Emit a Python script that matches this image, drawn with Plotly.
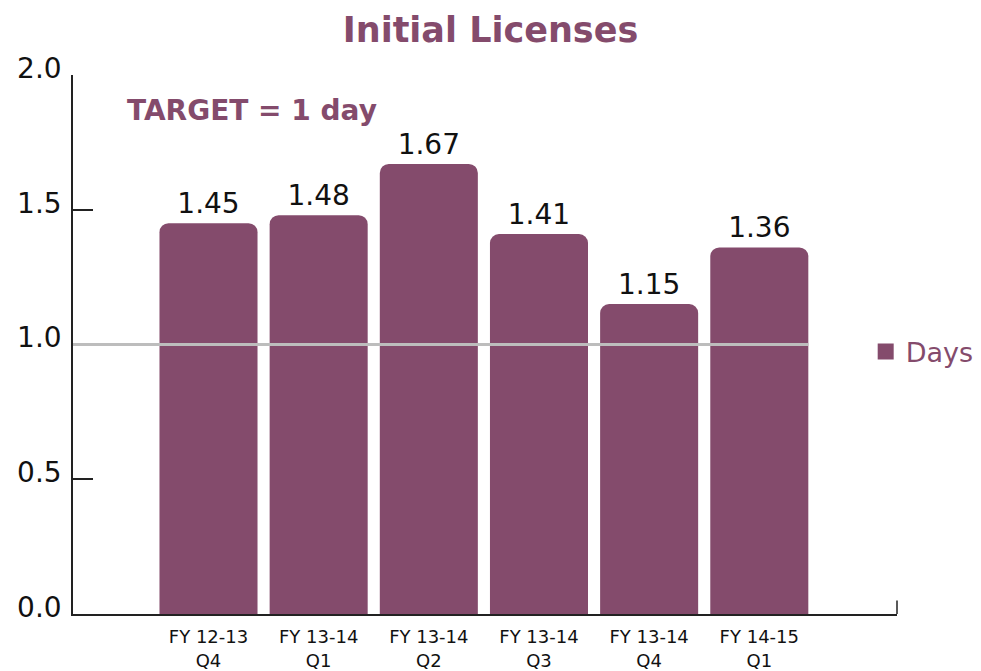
import plotly.graph_objects as go

CATEGORIES = ["FY 12-13<br>Q4", "FY 13-14<br>Q1", "FY 13-14<br>Q2",
              "FY 13-14<br>Q3", "FY 13-14<br>Q4", "FY 14-15<br>Q1"]
DAYS = [1.45, 1.48, 1.67, 1.41, 1.15, 1.36]
TARGET = 1.0
Y_TICKS = [0.0, 0.5, 1.0, 1.5, 2.0]

PURPLE = "#844B6C"
FONT = "'DejaVu Sans', sans-serif"
BAR_WIDTH = 0.89
X_RANGE = [-1.23, len(CATEGORIES) - 1 + 1.25]

fig = go.Figure()
fig.add_trace(go.Bar(
    x=list(range(len(CATEGORIES))),
    y=DAYS,
    name="Days",
    showlegend=False,
    width=BAR_WIDTH,
    marker=dict(color=PURPLE, line=dict(width=0), cornerradius=9),
    text=[f"{v:.2f}" for v in DAYS],
    textposition="outside",
    textfont=dict(size=28, color="#111111"),
    cliponaxis=False,
))
# legend entry only (bigger swatch than a bar legend gives)
fig.add_trace(go.Scatter(
    x=[None], y=[None], mode="markers", name="Days",
    marker=dict(symbol="square", size=22, color=PURPLE),
))

# target reference line, drawn over the bars
fig.add_shape(type="line", xref="x", yref="y",
              x0=X_RANGE[0], x1=len(CATEGORIES) - 1 + BAR_WIDTH / 2,
              y0=TARGET, y1=TARGET,
              line=dict(color="#BDBDBD", width=3), layer="above")
# small end cap on the right of the x axis
fig.add_shape(type="line", xref="paper", yref="paper",
              x0=1, x1=1, y0=0, y1=0.025,
              line=dict(color="#222222", width=1.5))

fig.add_annotation(text="<b>TARGET = 1 day</b>", xref="paper", yref="paper",
                   x=0.063, y=0.935, xanchor="left", yanchor="middle",
                   showarrow=False, font=dict(size=28, color=PURPLE))

fig.update_layout(
    title=dict(text="<b>Initial Licenses</b>", x=0.5, xanchor="center",
               y=0.955, yanchor="middle",
               font=dict(size=35, color=PURPLE, family=FONT)),
    width=981, height=671,
    paper_bgcolor="white", plot_bgcolor="white",
    font=dict(family=FONT, color="#111111"),
    margin=dict(l=73, r=84, t=75, b=57, autoexpand=False),
    showlegend=True,
    legend=dict(x=0.962, y=0.486, xanchor="left", yanchor="middle",
                font=dict(size=27, color=PURPLE), bgcolor="rgba(0,0,0,0)",
                itemsizing="trace"),
    bargap=0.11,
)
fig.update_xaxes(
    range=X_RANGE, tickvals=list(range(len(CATEGORIES))), ticktext=CATEGORIES,
    showline=True, linecolor="#222222", linewidth=1.5, showgrid=False,
    zeroline=False, ticks="", tickfont=dict(size=18, color="#111111"),
    ticklabelstandoff=6, automargin=False,
)
fig.update_yaxes(
    range=[0, 2.0], tickvals=Y_TICKS, ticktext=[f"{v:.1f}" for v in Y_TICKS],
    showline=True, linecolor="#222222", linewidth=1.5, showgrid=False,
    zeroline=False, ticks="inside", ticklen=20, tickcolor="#222222",
    tickwidth=1.5, tickfont=dict(size=28, color="#111111"),
    ticklabelshift=-7, ticklabelstandoff=4, automargin=False,
)

# the page body has a default 8px margin; drop it so the figure sits at 0,0
fig.write_html("out.html", config={"displayModeBar": False},
               post_script="document.body.style.margin='0';")
